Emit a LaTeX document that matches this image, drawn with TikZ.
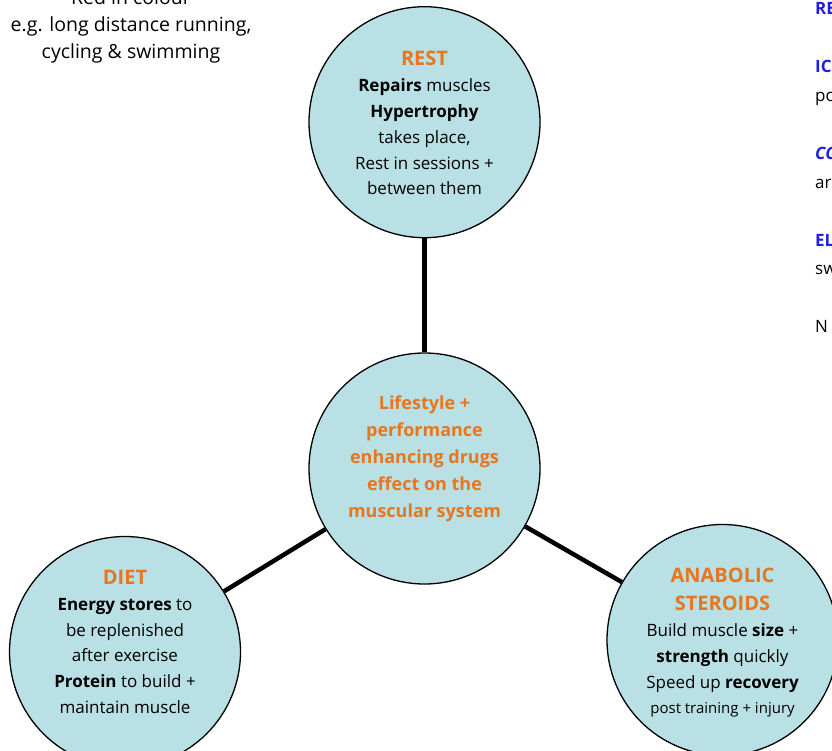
\documentclass[tikz,border=0pt]{standalone}
\usepackage{fontspec}
\setmainfont{Open Sans}
\usetikzlibrary{positioning,shapes.geometric}

\definecolor{bubblefill}{HTML}{B9E0E4}
\definecolor{headorange}{HTML}{E8761E}
\definecolor{keyblue}{HTML}{1F1FE0}

\newcommand{\heading}[1]{{\fontsize{20}{28}\selectfont\bfseries\color{headorange}#1}}

\begin{document}
\begin{tikzpicture}[
			x=1pt, y=-1pt,
			link/.style={
				line width=4.5pt
			},
			topic/.style={
				circle,
				draw,
				line width=1.3pt,
				fill=bubblefill,
				minimum size=231pt,
				inner sep=0pt
			},
			topictext/.style={
				align=center,
				inner sep=0pt,
				font=\fontsize{17}{25.8}\selectfont
			},
			hubtext/.style={
				topictext,
				text=headorange,
				font=\fontsize{18}{27}\selectfont\bfseries
			},
			note/.style={
				align=center,
				inner sep=0pt,
				font=\fontsize{19.5}{27}\selectfont
			},
			keyword/.style={
				anchor=base west,
				inner sep=0pt,
				text=keyblue,
				font=\fontsize{17}{20}\selectfont\bfseries
			},
			plainword/.style={
				anchor=base west,
				inner sep=0pt,
				font=\fontsize{17}{20}\selectfont
			}
			]
			
			\useasboundingbox (0,0) rectangle (832,751);
			\clip (0,0) rectangle (832,751);
			
			%=====================================================================
			% Central topic and its three branches
			%=====================================================================
			
			\node[topic] (hub) at (424.5,468.5) {};
			\node[topic, above=114pt of hub] (rest) {};
			\node[topic] (diet) at (125,652) {};
			\node[topic] (steroids) at (722.5,640) {};
			
			\draw[link] (rest) -- (hub);
			\draw[link] (diet) -- (hub);
			\draw[link] (steroids) -- (hub);
			
			\node[hubtext] (hub-text) at ([yshift=10pt]hub.center)
			{Lifestyle +\\performance\\enhancing drugs\\effect on the\\muscular system};
			
			\node[topictext] (rest-text) at ([yshift=-1pt]rest.center)
			{\heading{REST}\\
				\textbf{Repairs} muscles\\
				\textbf{Hypertrophy}\\
				takes place,\\
				Rest in sessions +\\
				between them};
			
			\node[topictext] (diet-text) at ([yshift=10pt]diet.center)
			{\heading{DIET}\\
				\textbf{Energy stores} to\\
				be replenished\\
				after exercise\\
				\textbf{Protein} to build +\\
				maintain muscle};
			
			\node[topictext] (steroids-text) at ([yshift=-3pt]steroids.center)
			{\heading{ANABOLIC}\\[2pt]
				\heading{STEROIDS}\\
				Build muscle \textbf{size} +\\
				\textbf{strength} quickly\\
				Speed up \textbf{recovery}\\
				{\fontsize{15}{23}\selectfont post training + injury}};
			
			%=====================================================================
			% Text cut by the page edges
			%=====================================================================
			
			\node[note, anchor=base] (fibres) at (131,59)
			{Red in colour\\e.g. long distance running,\\cycling \& swimming};
			
			\node[keyword] (re) at (815,15) {RE};
			\node[keyword] (ic) at (815,73) {IC};
			\node[plainword] (po) at (815,102) {po};
			\node[keyword, font=\fontsize{17}{20}\selectfont\bfseries\itshape] (co) at (815,160) {CO};
			\node[plainword] (ar) at (815,189) {ar};
			\node[keyword] (el) at (815,247) {EL};
			\node[plainword] (sw) at (815,275) {sw};
			\node[plainword] (nn) at (815,332) {N};
			
		\end{tikzpicture}
\end{document}
